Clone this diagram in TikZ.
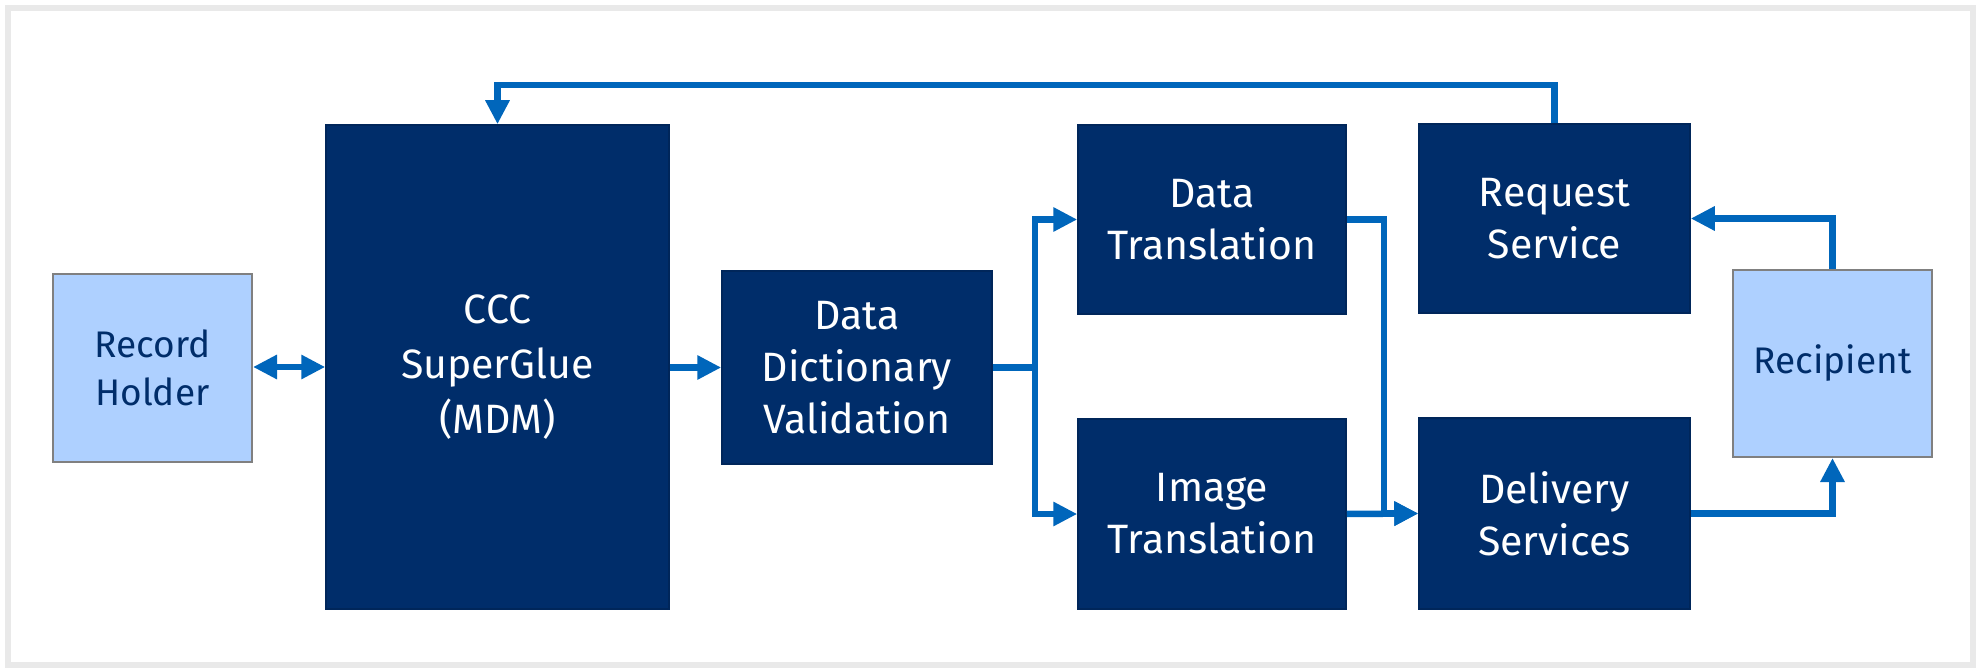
\documentclass[tikz,border=0pt]{standalone}
\usepackage{fontspec}
\setmainfont{Fira Sans}
\usetikzlibrary{arrows.meta}
\definecolor{navy}{RGB}{0,45,106}
\definecolor{lightb}{RGB}{174,208,255}
\definecolor{arrowb}{RGB}{0,102,187}
\definecolor{framegray}{RGB}{233,233,233}
\definecolor{boxgray}{RGB}{128,128,128}
\begin{document}
\begin{tikzpicture}[x=1pt,y=-1pt,
  darkbox/.style={draw=navy!85!black, fill=navy, text=white, line width=1.5pt, align=center, inner sep=0pt, font=\fontsize{41}{52}\selectfont},
  lightbox/.style={draw=boxgray, fill=lightb, text=navy, line width=2pt, align=center, inner sep=0pt, font=\fontsize{37}{48}\selectfont},
  conn/.style={draw=arrowb, line width=6.5pt, -{Triangle[length=24pt,width=23pt]}},
  plain/.style={draw=arrowb, line width=6.5pt}]
\useasboundingbox (0,0) rectangle (1986,668);
\fill[white] (0,0) rectangle (1986,668);
\draw[framegray, line width=6pt] (8,8) rectangle (1973,665);

\node[lightbox, minimum width=199pt, minimum height=188pt] (rh) at (152.5,368) {Record\\Holder};
\node[darkbox, minimum width=343pt, minimum height=484pt, font=\fontsize{41}{55}\selectfont] (ccc) at (497.5,367) {CCC\\SuperGlue\\(MDM)};
\node[darkbox, minimum width=270pt, minimum height=193pt] (ddv) at (857,367.5) {Data\\Dictionary\\Validation};
\node[darkbox, minimum width=268pt, minimum height=189pt] (dt) at (1212,219.5) {Data\\Translation};
\node[darkbox, minimum width=268pt, minimum height=190pt] (it) at (1212,514) {Image\\Translation};
\node[darkbox, minimum width=271pt, minimum height=189pt] (rs) at (1554.5,218.5) {Request\\Service};
\node[darkbox, minimum width=271pt, minimum height=191pt] (ds) at (1554.5,513.5) {Delivery\\Services};
\node[lightbox, minimum width=199pt, minimum height=187pt] (rc) at (1832.5,363.5) {Recipient};

\coordinate (br) at (1035,367.5);
\coordinate (mr) at (1384,0);
\coordinate (topy) at (0,85);

\draw[conn, {Triangle[length=24pt,width=23pt]}-{Triangle[length=24pt,width=23pt]}] (rh.east |- 0,367) -- (ccc.west |- 0,367);
\draw[conn] (ccc.east |- 0,367.5) -- (ddv.west);
\draw[plain] (ddv.east) -- (br);
\draw[conn] (br) |- (dt.west);
\draw[conn] (br) |- (it.west);
\draw[conn] (dt.east) -- (dt.east -| mr) -- (mr |- ds.west) -- (ds.west);
\draw[conn] (it.east) -- (ds.west);
\draw[conn] (rc.north) |- (rs.east);
\draw[conn] (ds.east) -| (rc.south);
\draw[conn] (rs.north) -- (rs.north |- topy) -| (ccc.north);
\end{tikzpicture}
\end{document}
